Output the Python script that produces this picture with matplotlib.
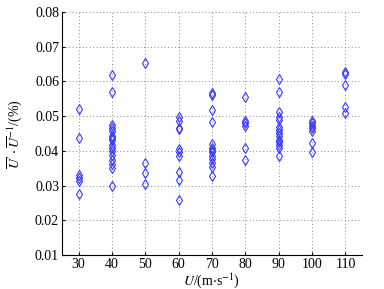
import numpy as np
import matplotlib
matplotlib.use('Agg')
import matplotlib.pyplot as plt

plt.rcParams['font.family'] = ['Liberation Serif', 'DejaVu Serif']
plt.rcParams['mathtext.fontset'] = 'stix'

u30 = [0.0520, 0.0436, 0.0329, 0.0321, 0.0312, 0.0276]
u40 = [0.0619, 0.0570, 0.0476, 0.0466, 0.0456, 0.0442, 0.0436, 0.0430,
       0.0418, 0.0407, 0.0401, 0.0388, 0.0374, 0.0363, 0.0351, 0.0298]
u50 = [0.0652, 0.0365, 0.0336, 0.0303]
u60 = [0.0497, 0.0486, 0.0467, 0.0463, 0.0405, 0.0396, 0.0386, 0.0340,
       0.0316, 0.0257]
u70 = [0.0566, 0.0562, 0.0518, 0.0483, 0.0420, 0.0407, 0.0402, 0.0396,
       0.0386, 0.0377, 0.0365, 0.0353, 0.0327]
u80 = [0.0555, 0.0485, 0.0479, 0.0472, 0.0407, 0.0374]
u90 = [0.0608, 0.0570, 0.0511, 0.0499, 0.0489, 0.0470, 0.0461, 0.0451,
       0.0442, 0.0432, 0.0426, 0.0417, 0.0407, 0.0386]
u100 = [0.0487, 0.0480, 0.0472, 0.0465, 0.0458, 0.0424, 0.0396]
u110 = [0.0627, 0.0622, 0.0591, 0.0527, 0.0509]

speeds = [30, 40, 50, 60, 70, 80, 90, 100, 110]
values = [u30, u40, u50, u60, u70, u80, u90, u100, u110]

fig = plt.figure(figsize=(3.84, 2.89), dpi=100)
ax = fig.add_axes([0.161, 0.118, 0.782, 0.840])

for s, v in zip(speeds, values):
    ax.plot([s] * len(v), v, 'd', markersize=5, markerfacecolor='none',
            markeredgecolor='#3a3aff', markeredgewidth=0.8)

ax.set_xlim(25, 115)
ax.set_ylim(0.01, 0.08)
ax.set_xticks(speeds)
ax.set_yticks(np.arange(0.01, 0.0801, 0.01))
ax.set_yticklabels(['%.2f' % t for t in np.arange(0.01, 0.0801, 0.01)])
ax.grid(True, linestyle=(0, (1, 2.5)), color='#888888', linewidth=0.7)
ax.set_axisbelow(True)
ax.spines['top'].set_visible(False)
ax.spines['right'].set_visible(False)
ax.tick_params(direction='in', length=2, labelsize=10, pad=2)

ax.set_xlabel(r'$U$/(m$\cdot$s$^{-1}$)', fontsize=10)
ax.xaxis.set_label_coords(0.5, -0.065)
ax.set_ylabel(r"$\overline{U}'\cdot\overline{U}^{-1}$/(%)", fontsize=10)
ax.yaxis.set_label_coords(-0.125, 0.5)

plt.savefig('out.png', dpi=100)
